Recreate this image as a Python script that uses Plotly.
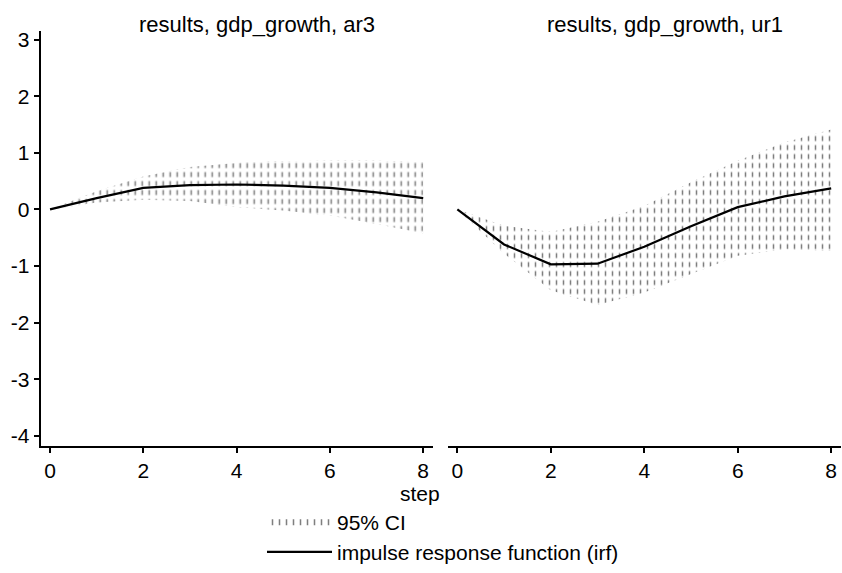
import plotly.graph_objects as go

# ---- data ----
steps = [0, 1, 2, 3, 4, 5, 6, 7, 8]

ar3_irf = [0.0, 0.20, 0.38, 0.43, 0.44, 0.42, 0.38, 0.30, 0.20]
ar3_upper = [0.0, 0.32, 0.58, 0.75, 0.82, 0.85, 0.86, 0.86, 0.83]
ar3_lower = [0.0, 0.12, 0.17, 0.15, 0.04, -0.02, -0.11, -0.26, -0.42]

ur1_irf = [0.0, -0.62, -0.97, -0.96, -0.66, -0.30, 0.04, 0.23, 0.37]
ur1_upper = [0.0, -0.29, -0.40, -0.22, 0.06, 0.48, 0.86, 1.18, 1.41]
ur1_lower = [0.0, -0.78, -1.43, -1.69, -1.47, -1.14, -0.82, -0.70, -0.73]

panel_titles = ["results, gdp_growth, ar3", "results, gdp_growth, ur1"]
x_ticks = [0, 2, 4, 6, 8]
y_ticks = [-4, -3, -2, -1, 0, 1, 2, 3]
y_ticklabels = ["-4", "-3", "-2", "-1", "0", "1", "2", "3"]

W, H = 842, 573
FONT = "Liberation Sans, Arial, Helvetica, sans-serif"


def px_x(p):
    return p / W


def px_y(p):
    return (H - p) / H


fig = go.Figure()

panels = [
    (ar3_irf, ar3_upper, ar3_lower, "x", "y"),
    (ur1_irf, ur1_upper, ur1_lower, "x2", "y2"),
]

for i, (irf, up, lo, xa, ya) in enumerate(panels):
    poly_x = steps + steps[::-1]
    poly_y = up + lo[::-1]
    # hatched band: vertical strokes
    fig.add_trace(go.Scatter(
        x=poly_x, y=poly_y, xaxis=xa, yaxis=ya,
        mode="lines", line=dict(width=0, color="rgba(0,0,0,0)"),
        fill="toself", fillcolor="rgba(0,0,0,0)",
        fillpattern=dict(shape="|", fgcolor="black", size=7, solidity=0.22,
                         fillmode="overlay"),
        name="95% CI", showlegend=(i == 0), legend="legend",
        hoverinfo="skip",
    ))
    # break strokes into short dashes
    fig.add_trace(go.Scatter(
        x=poly_x, y=poly_y, xaxis=xa, yaxis=ya,
        mode="lines", line=dict(width=0, color="rgba(0,0,0,0)"),
        fill="toself", fillcolor="rgba(0,0,0,0)",
        fillpattern=dict(shape="-", fgcolor="white", fgopacity=1, size=9,
                         solidity=0.45, fillmode="overlay"),
        showlegend=False, hoverinfo="skip",
    ))
    fig.add_trace(go.Scatter(
        x=steps, y=irf, xaxis=xa, yaxis=ya,
        mode="lines", line=dict(color="black", width=2.2),
        name="impulse response function (irf)", showlegend=(i == 0),
        legend="legend2",
    ))

axis_common = dict(
    showgrid=False, zeroline=False, showline=True, linecolor="black",
    linewidth=2, ticks="outside", ticklen=5, tickwidth=1.5, tickcolor="black",
    tickfont=dict(family=FONT, size=21, color="black"),
)

fig.update_layout(
    width=W, height=H,
    margin=dict(l=0, r=0, t=0, b=0),
    paper_bgcolor="white", plot_bgcolor="white",
    font=dict(family=FONT, color="black"),
    xaxis=dict(domain=[px_x(40.7), px_x(433)], range=[-0.2, 8.21],
               tickvals=x_ticks, anchor="y", **axis_common),
    xaxis2=dict(domain=[px_x(448), px_x(841)], range=[-0.2, 8.21],
                tickvals=x_ticks, anchor="y2", **axis_common),
    yaxis=dict(domain=[px_y(450), px_y(28)], range=[-4.18, 3.16],
               tickvals=y_ticks, ticktext=y_ticklabels, anchor="x",
               **axis_common),
    yaxis2=dict(domain=[px_y(450), px_y(28)], range=[-4.18, 3.16],
                anchor="x2", showline=False, showticklabels=False,
                ticks="", showgrid=False, zeroline=False),
    legend=dict(x=px_x(262), y=px_y(527), xanchor="left", yanchor="middle",
                bgcolor="rgba(0,0,0,0)", itemwidth=65,
                font=dict(family=FONT, size=21, color="black")),
    legend2=dict(x=px_x(262), y=px_y(558), xanchor="left", yanchor="middle",
                 bgcolor="rgba(0,0,0,0)", itemwidth=65,
                 font=dict(family=FONT, size=21, color="black")),
    showlegend=True,
)

fig.add_annotation(x=px_x(256.5), y=px_y(22), xref="paper", yref="paper",
                   text=panel_titles[0], showarrow=False,
                   xanchor="center", yanchor="middle",
                   font=dict(family=FONT, size=22, color="black"))
fig.add_annotation(x=px_x(665), y=px_y(22), xref="paper", yref="paper",
                   text=panel_titles[1], showarrow=False,
                   xanchor="center", yanchor="middle",
                   font=dict(family=FONT, size=22, color="black"))
fig.add_annotation(x=px_x(420), y=px_y(498), xref="paper", yref="paper",
                   text="step", showarrow=False,
                   xanchor="center", yanchor="middle",
                   font=dict(family=FONT, size=21, color="black"))

fig.write_html("out.html")
